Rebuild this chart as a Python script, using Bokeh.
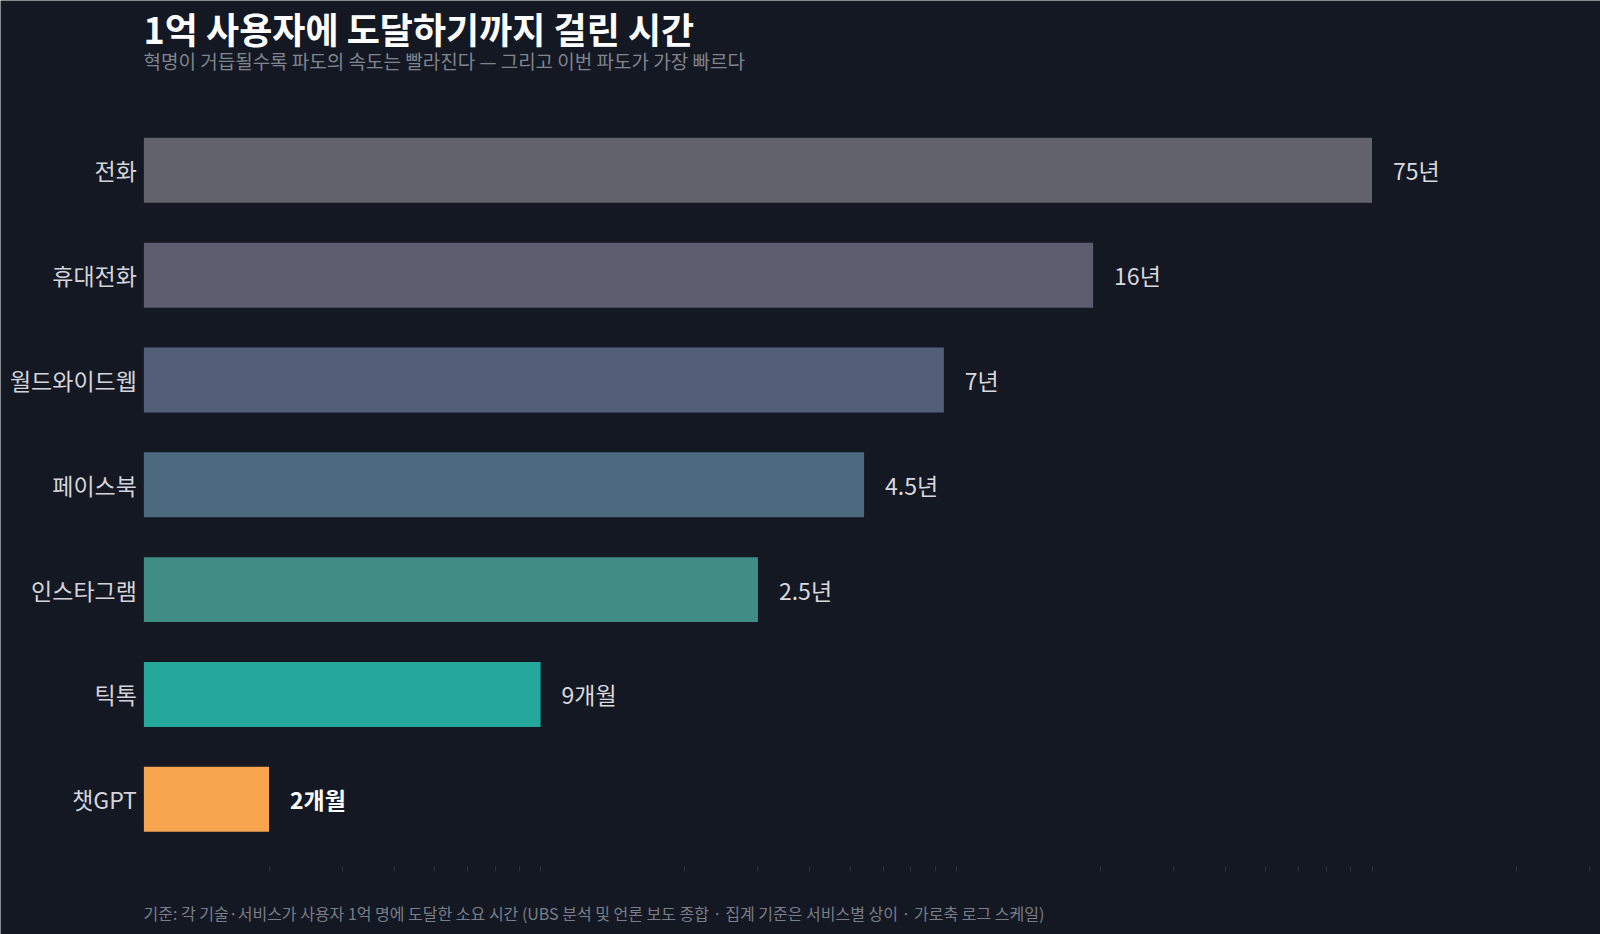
"""Time to reach 100 million users — horizontal bar chart on a log axis."""

from bokeh.core.properties import value
from bokeh.embed import file_html
from bokeh.models import ColumnDataSource, FixedTicker, Label, Range1d
from bokeh.plotting import figure
from bokeh.resources import INLINE

# ---------------------------------------------------------------------------
# Data
# ---------------------------------------------------------------------------
categories   = ["전화", "휴대전화", "월드와이드웹", "페이스북", "인스타그램", "틱톡", "챗GPT"]
months       = [900, 192, 84, 54, 30, 9, 2]          # time to 100M users, in months
value_labels = ["75년", "16년", "7년", "4.5년", "2.5년", "9개월", "2개월"]
bar_colors   = ["#62626c", "#5c5e70", "#535e78", "#4b697f", "#408d85", "#24a89b", "#f7a54f"]
label_colors = ["#d9d9de"] * 6 + ["#ffffff"]
label_styles = ["normal"] * 6 + ["bold"]

TITLE    = "1억 사용자에 도달하기까지 걸린 시간"
SUBTITLE = "혁명이 거듭될수록 파도의 속도는 빨라진다 — 그리고 이번 파도가 가장 빠르다"
FOOTER   = ("기준: 각 기술·서비스가 사용자 1억 명에 도달한 소요 시간 "
            "(UBS 분석 및 언론 보도 종합 · 집계 기준은 서비스별 상이 · 가로축 로그 스케일)")

BG   = "#131823"
FONT = "Noto Sans CJK KR"

# top row first: 전화 sits at the highest position
n = len(categories)
ypos = [n - 1 - i for i in range(n)]

# ---------------------------------------------------------------------------
# Figure — the frame fills the whole canvas, axes are pinned inside it
# ---------------------------------------------------------------------------
source = ColumnDataSource(dict(
    y=ypos, months=months, label=value_labels,
    color=bar_colors, lcolor=label_colors, lstyle=label_styles,
))

p = figure(
    width=1600, height=934, title=None,
    x_range=Range1d(0.452, 3190), x_axis_type="log",
    y_range=Range1d(-1.29, 7.62),
    output_backend="svg", toolbar_location=None,
    min_border=0,
)
p.background_fill_color = BG
p.border_fill_color = None
p.outline_line_color = None
p.xgrid.grid_line_color = None
p.ygrid.grid_line_color = None

p.hbar(y="y", left=1, right="months", height=0.62,
       fill_color="color", line_color=None, source=source)

p.text(x="months", y="y", text="label", source=source,
       x_offset=21, text_baseline="middle", text_align="left",
       text_font=value(FONT), text_font_size="23px",
       text_color="lcolor", text_font_style="lstyle")

# y axis: category names, pinned at the bars' base
p.yaxis.fixed_location = 1
p.yaxis.ticker = FixedTicker(ticks=ypos)
p.yaxis.major_label_overrides = {y: c for y, c in zip(ypos, categories)}
p.yaxis.axis_line_color = None
p.yaxis.major_tick_line_color = None
p.yaxis.minor_tick_line_color = None
p.yaxis.major_tick_in = 0
p.yaxis.major_tick_out = 0
p.yaxis.major_label_text_font = FONT
p.yaxis.major_label_text_font_size = "23px"
p.yaxis.major_label_text_color = "#d4d4da"
p.yaxis.major_label_standoff = 7

# x axis: faint minor log ticks only, below the last bar
p.xaxis.fixed_location = -0.641
p.xaxis.ticker = FixedTicker(
    ticks=[1, 10, 100, 1000],
    minor_ticks=[m * 10 ** e for e in range(4) for m in range(2, 10)],
)
p.xaxis.axis_line_color = None
p.xaxis.major_tick_line_color = None
p.xaxis.major_label_text_color = None
p.xaxis.major_label_text_font_size = "1px"
p.xaxis.minor_tick_line_color = "#2e333f"
p.xaxis.minor_tick_in = 0
p.xaxis.minor_tick_out = 5

# ---------------------------------------------------------------------------
# Titles (screen units from the frame's bottom-left corner)
# ---------------------------------------------------------------------------
p.add_layout(Label(x=143, y=907, x_units="screen", y_units="screen", text=TITLE,
                   text_font=FONT, text_font_size="36px", text_font_style="bold",
                   text_color="#ffffff", text_baseline="middle"))
p.add_layout(Label(x=143, y=874, x_units="screen", y_units="screen", text=SUBTITLE,
                   text_font=FONT, text_font_size="19px",
                   text_color="#80848e", text_baseline="middle"))
p.add_layout(Label(x=143, y=22, x_units="screen", y_units="screen", text=FOOTER,
                   text_font=FONT, text_font_size="16px",
                   text_color="#7a7e88", text_baseline="middle"))

open("out.html", "w").write(file_html(p, INLINE))
